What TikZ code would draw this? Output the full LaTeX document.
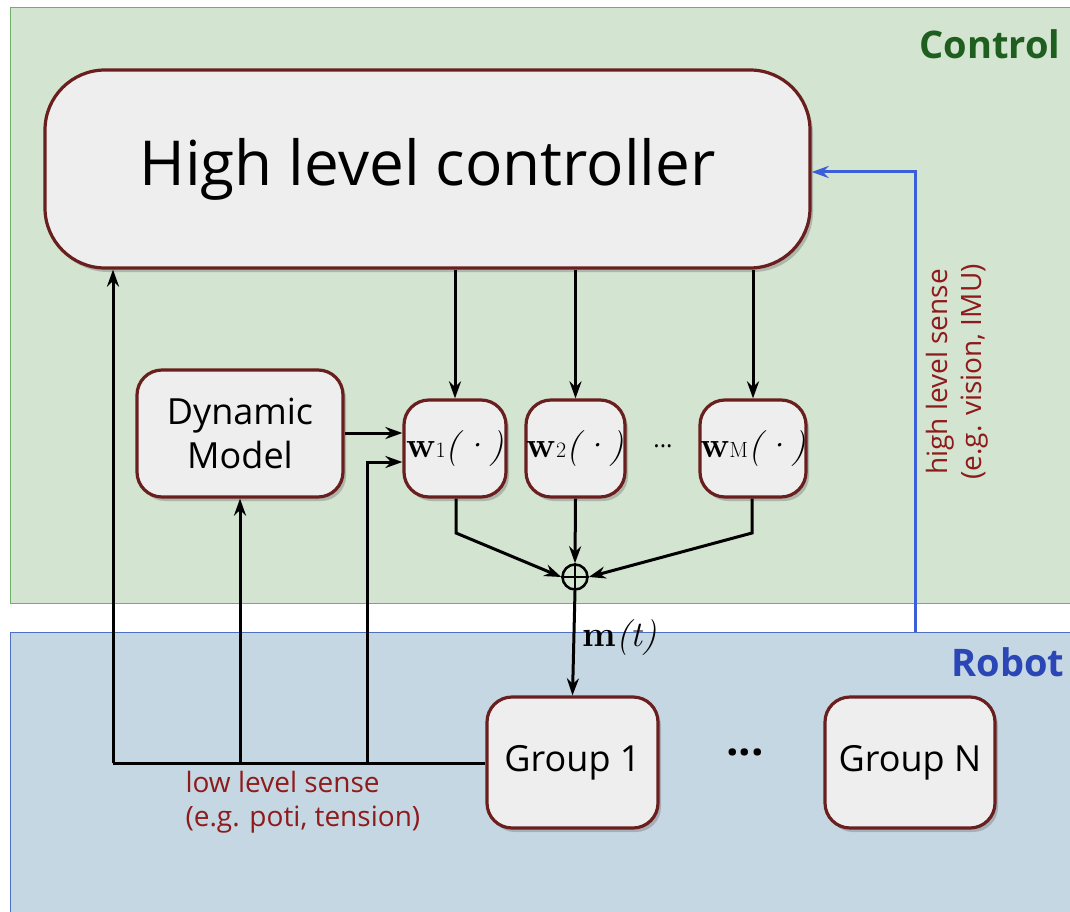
\documentclass[tikz,border=0pt]{standalone}
\usepackage{fontspec}
\setmainfont{Open Sans}
\usetikzlibrary{shadows,arrows.meta,calc}
\definecolor{ctrlbg}{HTML}{D3E4D0}
\definecolor{ctrlborder}{HTML}{6DB06A}
\definecolor{robbg}{HTML}{C6D7E4}
\definecolor{robborder}{HTML}{4F6FC0}
\definecolor{boxfill}{HTML}{EEEEEE}
\definecolor{boxborder}{HTML}{6A1F1F}
\definecolor{darkred}{HTML}{8E1B1B}
\definecolor{ctrltext}{HTML}{1E5E1E}
\definecolor{robtext}{HTML}{2B47B5}
\definecolor{bluewire}{HTML}{3A5FD9}
\newfontfamily\lmserif{Latin Modern Roman}
\tikzset{
  box/.style={draw=boxborder, line width=3.2pt, fill=boxfill, rounded corners=25pt,
    drop shadow={opacity=0.45, shadow xshift=3pt, shadow yshift=-4pt},
    align=center, inner sep=0pt},
  wire/.style={line width=3pt, draw=black},
  arr/.style={wire, -{Stealth[length=17pt,width=12pt]}},
  sense/.style={text=darkred, font=\fontsize{28}{34}\selectfont, align=left},
}
\newcommand{\wlab}[1]{{\lmserif\bfseries w}{\lmserif\fontsize{22}{22}\selectfont #1}{\lmserif\itshape (\kern1pt\textperiodcentered\kern1pt)}}
\begin{document}
\begin{tikzpicture}[x=1pt,y=-1pt]
\useasboundingbox (0,0) rectangle (1070,912);
% regions
\fill[white] (0,0) rectangle (1070,912);
\draw[fill=ctrlbg, draw=ctrlborder, line width=1pt] (10,8) rectangle (1075,603);
\draw[fill=robbg, draw=robborder, line width=1pt] (10,632) rectangle (1075,920);
\node[anchor=east, text=ctrltext, font=\bfseries\fontsize{38}{42}\selectfont] (ctl) at (1064,44) {Control};
\node[anchor=east, text=robtext, font=\bfseries\fontsize{38}{42}\selectfont] (rob) at (1068,662) {Robot};

% boxes
\node[box, rounded corners=60pt, minimum width=765pt, minimum height=198pt,
  font=\fontsize{62}{70}\selectfont] (hlc) at (427.5,169) {High level controller};
\node[box, minimum width=206pt, minimum height=127pt,
  font=\fontsize{36}{44}\selectfont] (dyn) at (240,433.5) {Dynamic\\Model};
\node[box, minimum width=102pt, minimum height=97pt, font=\fontsize{36}{36}\selectfont] (w1) at (455,448.5) {\wlab{1}};
\node[box, minimum width=99pt, minimum height=97pt, font=\fontsize{36}{36}\selectfont] (w2) at (575.5,448.5) {\wlab{2}};
\node[box, minimum width=106pt, minimum height=97pt, font=\fontsize{36}{36}\selectfont] (wm) at (753,448.5) {\wlab{M}};
\node[font=\fontsize{24}{24}\selectfont] (wdots) at (663,446) {...};
\node[box, minimum width=171pt, minimum height=131pt,
  font=\fontsize{36}{44}\selectfont] (g1) at (572.5,762.5) {Group 1};
\node[box, minimum width=170pt, minimum height=131pt,
  font=\fontsize{36}{44}\selectfont] (gn) at (910,762.5) {Group N};
\node[font=\bfseries\fontsize{44}{44}\selectfont] (gdots) at (745,752) {...};

% sum
\node[circle, draw=black, line width=2.5pt, minimum size=25pt, inner sep=0pt] (sum) at (575,577) {};
\draw[line width=2.5pt] (sum.north) -- (sum.south) (sum.west) -- (sum.east);

% controller to w
\draw[arr] (hlc.south -| w1.north) -- (w1.north);
\draw[arr] (hlc.south -| w2.north) -- (w2.north);
\draw[arr] (hlc.south -| wm.north) -- (wm.north);
% dynamic model to w1
\draw[arr] (dyn.east |- 0,433) -- (w1.west |- 0,433);
% w to sum
\coordinate (k1) at (456,533);
\coordinate (km) at (752,533);
\draw[arr] (w1.south -| k1) -- (k1) -- (sum.west);
\draw[arr] (w2.south) -- (sum.north);
\draw[arr] (wm.south -| km) -- (km) -- (sum.east);
% sum to group
\draw[arr] (sum.south) -- (g1.north) node[pos=0.45, right=4pt, font=\fontsize{36}{36}\selectfont] (mt) {{\lmserif\bfseries m}{\lmserif\itshape (t)}};

% low level sense
\coordinate (la) at (113,763);
\coordinate (lb) at (240,763);
\coordinate (lc) at (367,763);
\coordinate (lc2) at (367,462);
\draw[wire] (g1.west |- la) -- (la);
\draw[arr] (la) -- (la |- hlc.south);
\draw[arr] (lb) -- (dyn.south);
\draw[arr] (lc) -- (lc2) -- (w1.west |- lc2);
\node[sense, anchor=north west] (lls) at (182,768) {low level sense\\(e.g. poti, tension)};

% high level sense
\coordinate (hb) at (915,632);
\coordinate (ht) at (915,172);
\draw[line width=3pt, draw=bluewire, -{Stealth[length=17pt,width=12pt]}] (hb) -- (ht) -- (hlc.east |- ht);
\node[sense, rotate=90, align=center] (hls) at (957,372) {high level sense\\(e.g. vision, IMU)};
\end{tikzpicture}
\end{document}
